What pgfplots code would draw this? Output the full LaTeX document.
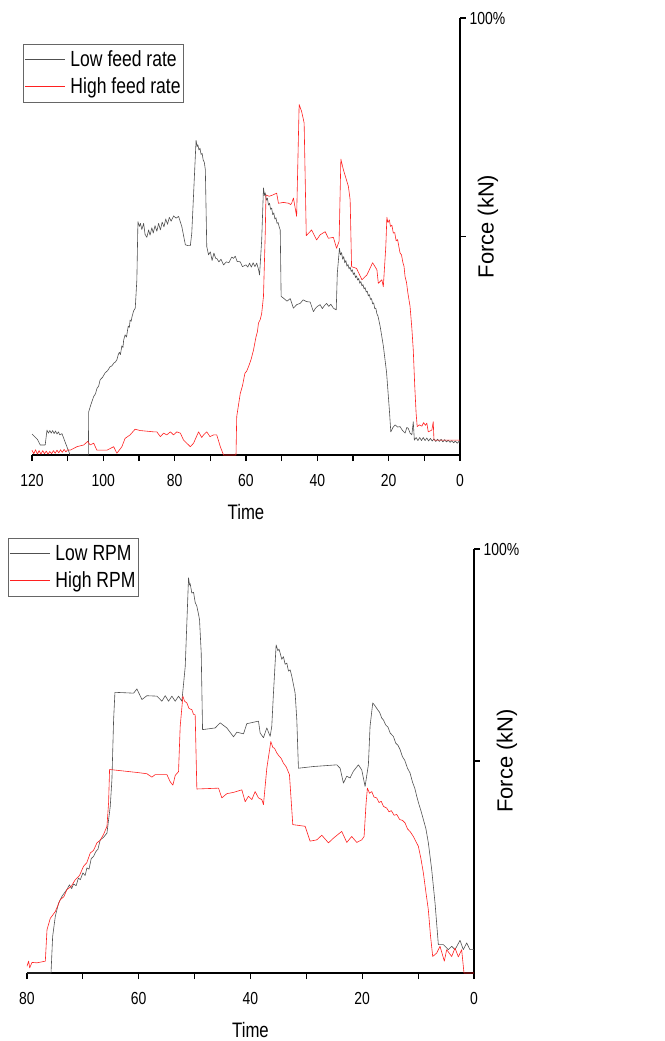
\documentclass[border=0pt]{standalone}
\usepackage{pgfplots}
\pgfplotsset{compat=1.18}
\usepackage{fontspec}
\setmainfont{Liberation Sans}[FakeStretch=0.8]
\newfontfamily\labelfont{Liberation Sans}
\definecolor{lowc}{HTML}{505050}
\definecolor{highc}{HTML}{FF2020}
\begin{document}
\begin{tikzpicture}
\useasboundingbox (0,0) rectangle (665bp,-1041bp);
\pgfplotsset{
  myaxis/.style={
    scale only axis, x dir=reverse, xmin=0, ymin=0, ymax=100,
    axis x line*=bottom, axis y line*=right,
    axis line style={line width=1.3pt, black},
    tick align=outside, xtick align=outside, ytick align=outside,
    major tick length=6bp, minor tick length=6bp,
    every tick/.style={black, line width=1.1pt},
    ytick={50,100}, yticklabels={,100\%},
    /pgf/number format/assume math mode=true,
    tick label style={font=\fontsize{17.5}{20}\selectfont},
    xticklabel style={yshift=-10bp},
    xlabel={Time},
    every axis x label/.style={font=\fontsize{21}{24}\selectfont, at={(axis description cs:0.5,0)}, anchor=center, yshift=-57bp},
    ylabel={Force (kN)},
    legend cell align=left,
    legend style={draw=black!60, line width=0.8pt, font=\fontsize{22}{26}\selectfont,
      inner xsep=1bp, inner ysep=3bp, row sep=2bp, column sep=3bp,
      nodes={inner xsep=2bp, inner ysep=0bp, text height=20bp, text depth=5bp}},
    clip=false,
  },
  lowline/.style={color=lowc, draw=lowc, line width=0.6pt, line join=round,
    legend image code/.code={\draw[draw=lowc, line width=1.1pt] (0bp,0bp) -- (40bp,0bp);}},
  highline/.style={color=highc, draw=highc, line width=0.6pt, line join=round,
    legend image code/.code={\draw[draw=highc, line width=1.1pt] (0bp,0bp) -- (40bp,0bp);}},
}
% ---------------- TOP PANEL ----------------
\begin{axis}[myaxis, at={(32bp,-455bp)}, anchor=south west,
  width=428bp, height=437bp, xmax=120,
  xtick={0,20,...,120}, minor xtick={10,30,...,110},
  every axis y label/.style={font=\labelfont\fontsize{22}{24}\selectfont, at={(axis description cs:1,0.5)}, anchor=center, rotate=90, xshift=10bp, yshift=-28bp},
  legend style={at={(axis description cs:0,1)}, anchor=north west, xshift=-9bp, yshift=-25.5bp}]
\addplot[lowline] coordinates {
(120,4.8)(118.5,3.6)(117.7,2.3)(116.3,2.3)(115.8,5.7)(115.4,5.0)(115.0,5.6)(114.6,5.0)(114.2,5.6)(113.8,4.9)(113.4,5.5)(113.0,4.8)(112.6,5.3)(112.2,4.6)(111.6,4.9)(110.5,2.5)(109.3,0)(104.2,0)
(104.1,9.9)(103.5,11.5)(102.7,13.4)(102.2,14.0)(101.8,15.2)(101.3,15.8)(100.9,17.2)(100.2,17.8)(99.5,18.8)(98.8,19.3)(98.1,20.2)(97.6,20.4)(97.1,21.0)(96.6,21.3)(96.2,21.8)(95.8,23.0)(95.5,23.5)(95.2,23.0)(94.8,25.0)(94.5,24.6)(94.3,26.3)(93.9,27.5)(93.5,27.0)(93.2,28.6)(93.0,29.5)(92.7,29.2)(92.5,30.9)(92.2,30.6)(92.0,31.5)(91.7,32.4)(91.5,33.0)(91.05,33.6)
(90.6,40.1)(90.3,53.4)(89.9,52.3)(89.6,53.0)(89.2,51.6)(88.7,53.0)(88.3,50.5)(87.8,49.8)(87.3,51.5)(86.9,50.3)(86.4,52.0)(86.0,50.8)(85.5,52.5)(85.0,51.2)(84.5,53.0)(84.0,51.5)(83.5,53.3)(83.0,52.2)(82.5,54.0)(82.0,52.8)(81.5,54.4)(81.0,53.5)(80.3,54.7)(79.6,54.2)(78.9,54.6)(78.0,52.3)(77.0,48.1)(76.2,47.9)(75.6,47.9)(75.2,50.8)
(74.0,72.0)(73.7,70.6)(73.5,71.0)(73.2,69.8)(72.9,70.2)(72.6,68.8)(72.3,69.0)(72.0,67.5)(71.7,67.0)(71.4,65.3)(71.0,47.7)(70.5,45.8)(70.0,46.5)(69.5,44.5)(69.0,46.2)(68.5,45.0)(68.2,45.0)(67.6,44.2)(67.0,44.8)(66.3,43.5)(65.5,44.2)(64.8,44.0)(64.0,45.3)(63.5,45.0)(63.0,45.5)(62.5,44.3)(61.6,44.2)(61.0,43.1)(60.0,43.5)(59.5,43.0)(59.0,43.9)(58.5,43.0)(58.0,44.0)(57.5,43.1)(57.0,43.9)(56.5,42.5)(56.2,41.2)
(55.6,49.2)(55.1,61.1)(54.8,59.4)(54.6,60.0)(54.3,58.3)(54.0,58.8)(53.7,57.2)(53.4,57.6)(53.1,56.2)(52.8,56.5)(52.5,55.0)(52.2,55.4)(51.9,54.0)(51.6,54.3)(51.3,53.0)(51.0,53.2)(50.7,52.2)(50.4,51.5)(50.15,36.3)(49.5,35.9)(48.5,35.2)(47.6,35.8)(46.7,33.6)(45.8,34.4)(44.8,34.7)(44.0,35.5)(43.0,35.1)(42.0,35.0)(41.1,32.8)(40.5,33.6)(40.0,34.0)(39.2,34.4)(38.6,33.5)(38.0,34.2)(37.4,34.7)(36.8,34.0)(36.2,34.5)(35.5,33.6)(34.7,33.2)
(34.4,41.6)(33.8,47.3)(33.5,45.8)(33.2,46.3)(32.9,44.8)(32.6,45.4)(32.3,44.0)(32.0,44.5)(31.7,43.2)(31.4,43.6)(31.1,42.6)(30.8,43.0)(30.5,42.0)(30.2,42.4)(29.9,41.3)(29.6,41.7)(29.3,40.6)(29.0,41.0)(28.7,40.0)(28.4,40.4)(28.1,39.3)(27.8,39.7)(27.5,38.7)(27.2,39.0)(26.9,38.0)(26.6,38.3)(26.3,37.3)(26.0,37.5)(25.7,36.4)(25.4,36.7)(25.1,35.6)(24.8,35.8)(24.5,34.6)(24.2,34.8)(23.9,33.5)(23.6,33.6)(23.3,32.3)(23.0,31.8)(22.4,29.5)(21.5,25.0)(20.6,19.0)(19.8,10.3)(19.4,5.3)
(18.8,6.3)(18.2,6.9)(17.5,6.4)(16.8,6.5)(16.2,5.7)(15.4,5.0)(14.9,6.3)(14.5,6.1)(14.0,5.0)(13.5,4.6)(13.1,7.6)(12.8,3.4)(12.3,4.0)(11.8,3.3)(11.3,4.0)(10.8,3.3)(10.3,4.0)(9.8,3.3)(9.3,3.9)(8.8,3.2)(8.3,3.8)(7.8,3.2)(7.3,3.7)(6.8,3.1)(6.3,3.6)(5.8,3.1)(5.3,3.6)(4.8,3.0)(4.3,3.5)(3.8,3.0)(3.3,3.4)(2.8,2.9)(2.3,3.3)(1.8,2.8)(1.3,3.2)(0.8,2.7)(0.3,3.1)(0,2.9)
};
\addlegendentry{Low feed rate}
\addplot[highline] coordinates {
(120,1.1)(119.5,0.3)(119.0,1.2)(118.5,0.2)(118.0,1.0)(117.5,0.2)(117.0,1.0)(116.5,0.3)(116.0,0.9)(115.5,0.2)(115.0,0.8)(114.5,0.3)(114.0,1.0)(113.5,0.4)(113.0,1.1)(112.5,0.5)(112.0,1.2)(111.5,0.6)(111.0,1.3)(110.5,0.7)(110.0,1.2)(109.3,1.1)
(107.4,1.9)(105.5,2.3)(104.4,3.1)(103.7,2.3)(102.7,2.7)(101.8,1.1)(99.0,1.1)(97.1,1.9)(96.2,0.4)(94.8,1.9)(93.9,3.8)(92.5,4.6)(91.1,5.9)(89.7,5.6)(85.9,5.3)(85.0,5.3)(84.0,4.2)(83.1,5.0)(82.2,4.6)(81.2,5.3)(80.3,4.6)(79.4,5.3)(78.4,5.0)(77.5,3.4)(75.6,1.9)(74.7,2.7)(73.3,5.3)(72.4,4.0)(71.9,4.6)(71.0,5.3)(70.1,4.2)(69.1,4.6)(68.2,4.6)(67.2,1.9)(66.3,0)
(62.8,0)(62.6,8.8)(61.6,14.1)(61.0,15.8)(60.3,18.7)(59.8,19.2)(59.3,20.2)(58.6,21.8)(57.9,24.0)(57.2,27.0)(56.8,28.2)(56.5,30.2)(56.0,31.0)(55.6,32.4)(55.1,36.3)(54.6,50.8)(54.4,59.5)(53.5,59.2)(52.5,59.5)(51.7,59.8)(51.4,59.9)(50.9,57.6)(49.5,57.8)(48.0,57.6)(47.5,57.3)(47.2,57.6)(46.7,58.8)(45.8,54.6)
(45.1,80.2)(44.4,78.6)(43.7,76.0)(43.1,50.2)(41.6,51.5)(40.2,49.2)(39.2,50.4)(37.8,51.1)(36.9,49.6)(35.5,49.8)(34.6,47.3)(33.9,48.9)(33.4,67.7)(32.7,65.3)(31.3,61.5)(30.8,58.4)(30.4,43.1)(29.0,42.7)(27.5,40.1)(26.1,41.2)(24.5,44.0)(23.3,42.4)(22.9,39.3)(21.9,40.1)(21.5,38.5)(20.8,47.7)
(20.5,54.4)(20.2,53.2)(19.8,53.8)(19.5,52.3)(19.1,52.6)(18.7,50.8)(18.3,50.9)(17.9,49.0)(17.5,49.3)(17.1,47.5)(16.8,46.2)(16.4,45.8)(16.0,44.0)(15.7,43.2)(15.4,40.8)(15.0,39.5)(14.6,37.0)(14.3,35.5)(14.0,34.0)(13.5,29.0)(13.1,24.0)(12.7,16.0)(12.3,9.5)(12.0,6.5)
(11.4,6.9)(10.7,6.6)(10.2,7.4)(9.7,6.8)(9.3,7.3)(8.9,5.3)(7.9,5.7)(7.5,7.6)(7.3,3.4)(0,3.4)
};
\addlegendentry{High feed rate}
\end{axis}
% ---------------- BOTTOM PANEL ----------------
\begin{axis}[myaxis, at={(27bp,-973bp)}, anchor=south west,
  width=447bp, height=424bp, xmax=80,
  xtick={0,20,...,80}, minor xtick={10,30,...,70},
  every axis y label/.style={font=\labelfont\fontsize{22}{24}\selectfont, at={(axis description cs:1,0.5)}, anchor=center, rotate=90, yshift=-33bp},
  legend style={at={(axis description cs:0,1)}, anchor=north west, xshift=-19bp, yshift=11.5bp}]
\addplot[lowline] coordinates {
(80,0)(75.7,0)(75.41,8.6)(74.93,13.4)(74.34,16.5)(73.74,18.1)(72.85,19.7)(72.4,20.8)(72.0,19.9)(71.66,21.0)(71.2,20.6)(70.8,22.4)(70.46,22.0)(70.0,23.6)(69.6,23.0)(69.27,24.8)(68.9,24.5)(68.5,27.0)(68.08,27.5)(67.7,28.6)(67.3,29.2)(66.89,31.4)(66.3,32.0)(65.69,33.0)(65.10,39.3)(64.80,45.6)(64.50,59.7)(64.26,66.2)
(62.5,66.1)(60.92,66.0)(60.33,67.0)(59.43,64.5)(58.54,65.4)(56.75,65.3)(55.86,64.1)(55.26,65.4)(54.66,64.1)(54.07,65.3)(53.47,64.1)(52.88,65.3)(52.28,64.1)(51.68,72.3)(51.09,93.2)(50.9,91.5)(50.79,91.8)(50.5,89.6)(50.19,89.8)(49.9,87.4)(49.60,86.5)(49.3,84.6)(49.12,83.3)(48.82,75.5)(48.58,57.4)
(46.32,57.8)(45.43,59.0)(44.23,57.8)(43.04,55.7)(42.44,56.8)(41.25,56.4)(40.66,58.8)(38.57,59.4)(38.27,56.6)(37.68,55.5)(37.08,57.8)(36.48,55.8)(36.19,58.2)(35.89,66.0)(35.41,77.4)(35.1,76.0)(34.9,76.4)(34.70,75.5)(34.4,74.0)(34.1,74.6)(33.8,72.8)(33.50,73.1)(33.2,71.2)(32.9,71.5)(32.61,70.0)(32.01,66.0)(31.71,59.7)(31.42,48.3)
(28.73,48.7)(24.56,49.1)(23.96,48.3)(23.37,44.8)(22.77,46.4)(22.18,46.0)(21.58,47.6)(20.69,49.1)(20.09,47.9)(19.49,44.0)(18.90,49.1)(18.60,58.2)(18.12,63.7)
(17.7,63.0)(17.3,62.2)(16.9,61.5)(16.5,60.1)(16.21,59.7)(15.8,58.5)(15.4,58.0)(15.0,56.6)(14.43,55.8)(14.0,54.2)(13.6,53.7)(13.23,52.7)(12.8,51.0)(12.4,50.2)(11.9,48.3)(11.45,47.2)(11.0,45.0)(10.6,43.6)(10.25,41.7)(9.9,40.0)(9.5,38.3)(9.06,36.2)(8.6,34.0)(8.17,30.7)(7.57,24.4)(6.97,16.5)(6.38,6.7)
(5.48,6.7)(4.59,5.5)(3.99,6.3)(3.40,5.5)(2.50,7.7)(1.91,5.5)(1.31,7.1)(0.72,5.5)(0,5.5)
};
\addlegendentry{Low RPM}
\addplot[highline] coordinates {
(80.0,1.6)(79.70,2.8)(79.52,1.2)(79.11,2.5)(78.21,2.4)(76.72,2.8)(76.42,10.2)(75.83,12.9)(74.93,14.5)(74.04,17.3)(73.4,18.0)(72.85,19.7)(72.1,20.4)(71.36,22.0)(70.6,23.0)(69.87,25.2)(69.3,26.0)(68.68,28.3)(68.1,28.9)(67.48,30.7)(66.9,31.3)(66.29,32.7)(65.69,34.6)(65.40,40.1)(65.22,48.0)
(60.33,47.3)(58.54,47.0)(57.65,46.2)(57.05,46.8)(54.96,46.8)(54.37,45.1)(53.89,44.3)(53.47,46.6)(52.88,47.5)(52.58,58.2)(52.10,65.3)(51.8,64.1)(51.39,63.7)(51.0,62.4)(50.49,62.1)(50.2,61.0)(49.90,60.9)(49.60,43.4)
(45.72,43.6)(45.13,41.3)(44.23,42.3)(43.04,42.6)(41.55,43.2)(40.95,40.4)(40.36,41.7)(39.76,40.9)(39.17,42.8)(38.57,41.3)(37.97,40.9)(37.68,39.7)(37.08,48.3)(36.36,54.6)(36.0,53.2)(35.7,53.0)(35.29,51.9)(34.9,51.2)(34.5,50.6)(34.10,49.5)(33.6,48.6)(33.03,46.8)(32.43,35.0)
(30.22,34.6)(29.33,31.1)(28.14,31.4)(27.24,32.5)(26.05,30.7)(25.16,31.8)(23.67,33.4)(22.77,30.8)(21.88,32.2)(20.98,30.8)(20.09,31.4)(19.67,32.2)(19.31,40.1)(19.08,43.6)
(18.7,42.4)(18.3,42.8)(17.9,41.5)(17.41,41.3)(17.0,40.2)(16.6,40.5)(16.2,39.3)(15.62,38.9)(15.2,38.0)(14.8,38.3)(14.3,37.2)(13.83,37.4)(13.3,36.2)(12.8,36.0)(12.34,35.4)(11.9,34.0)(11.4,33.3)(10.85,32.2)(10.4,31.0)(9.96,29.9)(9.5,27.0)(9.06,23.6)(8.6,19.0)(8.17,14.9)(7.8,9.0)(7.39,3.9)
(6.68,4.7)(6.08,6.3)(5.31,2.8)(4.89,5.5)(3.99,3.9)(3.40,5.9)(2.80,3.8)(2.21,5.5)(1.79,0)(0,0)
};
\addlegendentry{High RPM}
\end{axis}
\end{tikzpicture}
\end{document}
